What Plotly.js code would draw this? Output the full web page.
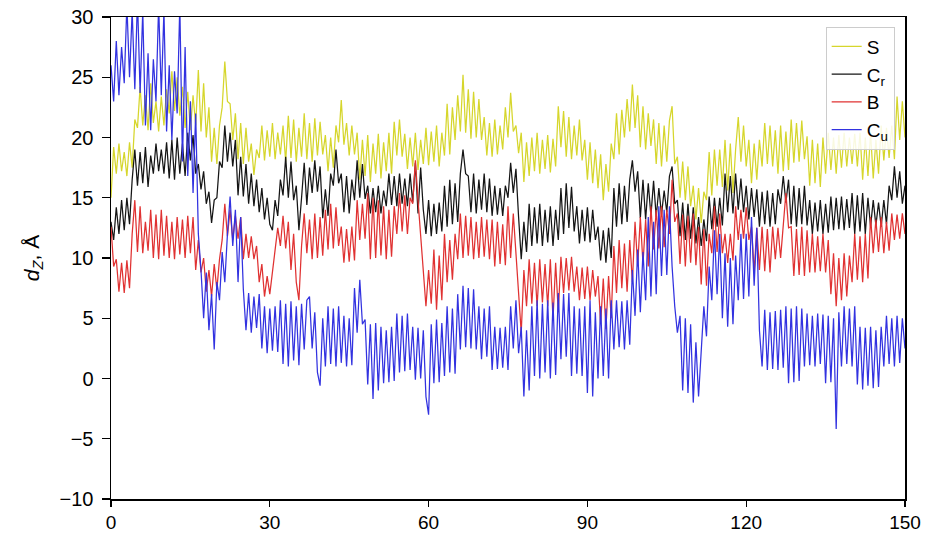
<!DOCTYPE html>
<html>
<head>
<meta charset="utf-8">
<script src="https://cdn.plot.ly/plotly-3.0.1.min.js"></script>
<style>
html,body{margin:0;padding:0;background:#fff;}
#chart{width:946px;height:533px;}
</style>
</head>
<body>
<div id="chart"></div>
<script>
// time grid: t = 0 ... 150 (ns), sampled every 0.5
const tStart = 0;
const tStep = 0.5;

const seriesNames = ["S", "C<sub>r</sub>", "B", "C<sub>u</sub>"];
const xTickVals = [0, 30, 60, 90, 120, 150];
const yTickVals = [-10, -5, 0, 5, 10, 15, 20, 25, 30];

const S = [
15.0,19.2,17.0,19.5,17.2,18.8,16.8,19.6,17.5,21.5,
20.8,24.2,21.0,23.5,20.6,24.5,21.2,23.0,20.5,23.4,
21.0,24.0,22.0,25.5,22.2,25.0,21.8,24.2,20.8,23.8,
20.6,23.5,21.0,25.6,20.5,24.5,20.0,22.5,18.0,20.8,
17.8,21.0,22.5,26.3,23.0,22.8,19.8,22.0,18.2,21.2,
17.8,20.8,18.0,19.5,16.9,19.0,18.3,21.0,18.1,20.6,
18.4,21.2,18.2,20.4,18.6,21.0,18.0,21.8,18.3,21.5,
18.0,20.8,18.4,22.0,18.2,21.2,18.0,21.6,18.5,21.3,
18.6,20.2,17.2,20.0,17.5,21.0,19.6,23.1,19.4,21.2,
18.5,21.0,18.6,20.4,16.5,19.8,16.8,20.2,16.3,19.5,
17.0,20.3,16.6,19.6,17.2,20.4,17.0,21.3,18.5,21.5,
18.4,20.3,17.4,20.0,17.6,20.4,17.3,19.8,17.8,20.8,
17.7,20.5,18.0,21.0,17.6,20.4,18.5,22.8,18.6,22.5,
19.8,23.5,20.5,25.2,20.4,24.0,19.9,23.8,20.0,23.2,
19.8,21.7,18.5,21.2,18.4,21.5,18.6,21.0,19.0,22.5,
20.0,23.7,20.5,21.0,18.7,20.4,16.3,19.6,16.8,20.0,
17.2,20.4,17.0,19.8,17.4,20.2,17.1,19.9,17.6,22.6,
19.2,22.2,18.4,21.7,18.2,21.0,18.5,21.5,18.1,19.8,
16.5,19.6,16.2,19.0,15.8,18.6,14.8,17.8,15.5,19.5,
18.2,22.0,18.6,22.3,20.0,23.2,20.5,24.4,20.8,23.5,
19.2,22.6,19.0,22.0,19.3,21.5,17.8,21.2,17.6,21.0,
18.0,21.4,22.6,17.8,18.4,15.0,18.0,14.8,17.6,14.3,
16.0,13.2,15.8,12.9,15.5,14.8,18.8,15.2,19.0,16.0,
19.0,15.9,19.8,15.6,19.5,15.4,19.0,21.7,18.0,21.0,
17.6,19.8,16.2,19.5,16.5,19.8,17.6,21.2,17.8,21.0,
17.6,20.6,17.0,21.0,17.2,20.5,17.3,21.5,17.9,21.2,
18.0,21.4,18.2,20.1,16.0,19.8,16.2,19.5,15.9,20.0,
17.0,20.4,17.3,20.0,17.0,20.2,17.5,20.4,17.6,20.0,
17.8,20.3,17.6,20.4,16.5,20.0,16.8,20.4,16.6,19.8,
17.0,21.0,18.1,20.8,18.3,21.0,18.2,23.4,19.8,23.0,
20.0
];

const Cr = [
13.0,11.5,14.2,12.0,14.8,12.3,15.0,12.8,16.5,19.0,
16.0,18.8,16.2,19.2,15.9,18.5,17.0,19.5,17.2,19.0,
17.0,19.6,16.6,19.8,16.5,20.0,17.0,19.5,16.8,20.4,
18.1,20.2,17.0,17.8,15.7,17.2,14.5,15.5,12.9,14.8,
15.0,18.0,17.5,21.0,18.0,20.4,17.6,19.8,15.2,18.4,
15.1,17.8,14.5,17.0,14.3,16.5,13.8,15.8,13.2,15.0,
12.8,12.3,14.8,13.5,16.5,15.2,18.4,15.0,18.0,14.8,
16.0,12.3,15.0,17.9,14.4,17.5,15.4,18.1,15.5,17.6,
13.3,15.7,13.5,17.0,16.0,19.0,16.2,17.0,13.8,16.8,
13.7,16.5,14.8,18.1,15.0,17.8,14.9,16.0,13.7,15.8,
13.8,16.0,13.7,15.6,14.3,17.0,14.4,16.8,14.3,17.0,
14.5,16.6,14.3,17.0,14.6,17.9,13.7,17.5,14.0,12.0,
14.8,11.8,14.5,12.0,14.6,12.2,16.0,12.6,16.5,12.8,
16.2,13.0,17.0,19.0,17.0,16.8,13.8,17.0,13.7,16.5,
14.0,17.0,13.8,16.6,13.5,16.0,13.6,15.8,13.5,16.0,
15.0,17.9,15.4,17.4,13.4,9.9,13.0,10.5,14.5,11.0,
14.2,11.2,14.5,11.0,14.0,11.3,14.3,11.0,14.0,11.5,
15.8,12.0,16.2,12.5,15.9,12.2,14.3,11.2,14.0,11.4,
14.2,11.3,14.0,11.5,12.6,9.8,12.3,9.6,12.5,10.0,
15.8,12.6,16.2,12.8,16.0,13.0,16.5,18.1,15.5,17.2,
13.3,16.5,13.2,16.2,13.5,16.4,13.4,15.8,13.6,15.6,
13.8,16.8,17.6,14.5,14.8,11.8,14.6,11.5,14.5,11.6,
14.2,11.2,13.4,11.0,13.2,11.4,15.1,12.4,15.0,12.6,
15.0,12.7,17.0,13.8,16.8,13.7,17.0,14.0,16.6,13.8,
16.0,13.2,15.8,13.4,15.7,12.6,15.5,12.8,15.6,12.6,
15.4,12.8,15.7,14.5,16.8,14.6,16.5,12.8,16.0,12.6,
15.8,12.8,16.0,12.7,14.8,12.0,14.6,12.2,14.8,12.0,
14.5,12.1,15.1,12.3,15.0,12.4,15.1,12.3,14.9,12.5,
15.4,12.0,15.2,12.2,15.4,12.0,15.0,12.6,14.8,12.7,
14.6,12.6,14.8,12.8,16.0,14.8,17.6,15.0,17.2,14.5,
16.0
];

const B = [
12.6,9.3,9.9,7.2,9.6,7.1,9.8,7.5,12.0,14.8,
10.5,14.3,10.4,13.0,10.6,14.0,10.0,13.6,9.9,14.0,
10.2,13.5,10.0,13.0,9.9,13.4,10.3,13.2,10.0,13.5,
10.4,13.4,9.0,11.5,8.8,10.0,7.2,9.0,6.8,9.5,
7.4,9.9,11.5,14.5,11.8,14.0,11.5,13.5,11.6,13.4,
9.9,12.0,10.0,11.8,9.9,11.0,8.0,9.5,6.8,8.5,
7.0,9.0,10.7,12.5,11.0,13.5,10.8,13.0,9.0,12.0,
8.0,6.5,11.0,13.7,10.4,13.2,9.9,13.7,10.0,13.4,
10.2,14.0,10.7,14.5,10.8,14.2,11.0,12.6,9.6,12.4,
9.7,12.6,9.8,14.8,11.5,14.5,11.6,15.4,9.9,15.0,
10.0,14.8,10.2,14.3,9.9,14.0,10.1,14.3,12.0,15.4,
12.2,15.2,12.0,15.0,14.5,18.1,14.8,12.0,9.3,6.0,
9.0,6.2,10.7,5.7,10.2,6.5,12.0,8.0,11.5,8.2,
12.0,9.9,13.7,10.0,13.5,10.2,13.4,9.9,13.0,10.0,
13.4,10.1,13.2,9.9,13.2,9.3,13.0,9.5,12.8,9.4,
14.3,10.0,13.7,9.9,7.1,3.8,9.0,6.0,9.9,6.2,
9.6,6.0,9.9,6.3,9.5,6.0,9.9,4.9,9.6,5.5,
10.1,7.1,10.0,7.3,10.1,7.2,9.3,6.5,9.2,6.6,
9.3,6.5,9.0,6.8,8.5,4.5,8.3,4.1,8.5,5.0,
11.0,7.1,11.5,7.5,11.2,7.2,11.5,8.0,13.0,9.3,
13.4,9.5,13.2,9.3,14.3,10.7,14.0,10.8,14.3,10.9,
14.0,12.0,16.5,13.0,13.7,9.5,13.6,9.3,13.5,9.6,
13.7,9.4,12.6,7.8,12.4,7.7,12.0,10.4,14.3,10.5,
13.7,10.4,12.0,9.6,12.0,9.8,14.3,11.5,14.0,11.6,
14.2,11.5,12.6,8.8,12.5,9.0,12.6,8.9,12.4,8.8,
12.6,9.9,12.5,10.0,12.6,15.4,12.5,12.6,8.5,12.4,
8.6,12.6,8.5,12.3,8.8,12.0,8.8,11.8,8.9,12.0,
8.8,11.5,7.0,10.4,6.0,10.0,6.5,10.4,6.8,10.2,
8.0,12.0,8.2,11.8,8.0,12.0,8.3,13.4,10.4,13.2,
10.5,13.4,10.4,13.0,10.6,13.7,11.5,13.6,11.6,13.7,
12.0
];

const Cu = [
26.0,23.0,28.0,23.5,27.5,24.5,31.0,25.0,30.5,24.0,
31.5,23.7,30.5,21.0,27.0,20.6,26.5,23.0,31.0,23.5,
30.5,20.5,26.0,19.8,25.5,22.0,31.0,18.0,27.5,16.8,
23.0,15.4,22.0,12.0,9.0,5.0,8.8,4.0,7.0,2.4,
8.0,6.5,10.5,8.0,12.0,15.1,11.0,14.0,8.0,13.4,
7.4,4.0,7.1,3.8,6.8,4.2,7.0,2.5,6.0,2.1,
5.8,2.3,6.0,2.2,6.5,1.2,6.2,1.0,6.4,1.5,
6.0,1.1,6.2,2.4,6.5,6.8,2.5,5.5,0.5,-0.6,
5.0,1.0,6.0,1.2,5.8,1.0,6.0,1.3,5.2,1.0,
5.0,1.1,7.5,3.8,8.2,4.5,4.9,-0.5,4.5,-1.7,
4.6,-1.0,4.3,-0.4,4.0,-0.3,4.3,-0.2,5.4,0.5,
5.2,0.6,5.4,0.7,4.3,-0.1,4.2,0.0,4.0,-1.5,
-3.0,4.5,-0.4,4.9,-0.3,4.6,0.2,6.0,0.5,5.8,
0.4,7.0,2.4,7.7,2.6,7.5,2.5,7.4,2.4,6.0,
1.6,5.8,1.8,6.0,0.7,4.3,0.8,4.2,0.9,4.3,
0.7,6.0,2.5,6.5,2.1,4.3,-1.5,4.0,-1.0,6.0,
0.2,6.5,0.0,6.2,0.5,6.5,0.0,6.3,0.3,7.1,
1.6,7.0,1.8,7.1,0.2,6.0,0.4,5.8,0.2,6.0,
-1.2,6.5,-1.5,5.5,0.0,6.0,0.2,5.8,0.0,6.5,
2.4,6.5,2.6,6.4,2.4,6.5,2.8,9.0,5.2,10.7,
5.5,10.5,6.5,13.4,6.8,13.0,7.0,14.3,8.5,14.0,
8.6,14.3,9.3,6.0,3.8,5.2,-1.0,5.0,-1.2,4.5,
-2.0,3.0,-1.5,2.4,6.0,3.5,9.3,6.5,12.3,7.0,
12.0,5.0,10.4,4.3,10.0,4.5,10.2,6.5,12.0,6.6,
12.0,6.8,13.4,7.7,12.5,4.0,1.0,5.7,0.7,5.5,
0.8,5.6,0.7,5.7,0.9,6.0,-0.4,5.8,-0.3,6.0,
-0.2,5.8,1.0,5.4,1.1,5.2,1.0,5.4,1.2,5.3,
-0.4,5.2,-0.3,5.0,-4.2,5.5,1.0,6.0,1.2,5.8,
1.0,6.0,-0.5,4.3,-0.9,4.2,-0.6,4.3,-0.8,4.0,
-0.7,4.3,1.0,5.2,1.2,5.0,1.0,5.2,1.3,5.0,
2.5
];

const seriesValues = [S, Cr, B, Cu];
const seriesColors = ["#d6d62c", "#151515", "#e03232", "#3232e0"];

const FONT = "Liberation Sans, Arial, Helvetica, sans-serif";

const traces = seriesValues.map((vals, i) => ({
  type: "scatter",
  mode: "lines",
  name: seriesNames[i],
  x0: tStart,
  dx: tStep,
  y: vals,
  line: {color: seriesColors[i], width: 1.25}
}));

const layout = {
  width: 946,
  height: 533,
  margin: {l: 111, r: 41, t: 17, b: 34, pad: 0},
  paper_bgcolor: "#ffffff",
  plot_bgcolor: "#ffffff",
  font: {family: FONT, size: 19, color: "#000"},
  showlegend: true,
  legend: {
    x: 0.987, y: 0.98, xanchor: "right", yanchor: "top",
    bgcolor: "rgba(255,255,255,0.85)",
    bordercolor: "#cccccc", borderwidth: 1,
    font: {family: FONT, size: 19, color: "#000"},
    itemwidth: 30,
    tracegroupgap: 0
  },
  xaxis: {
    range: [0, 150],
    tickvals: xTickVals,
    ticktext: xTickVals.map(String),
    ticks: "outside", ticklen: 6, tickwidth: 1.3, tickcolor: "#000",
    showline: true, linecolor: "#000", linewidth: 1.5, mirror: true,
    showgrid: false, zeroline: false,
    tickfont: {family: FONT, size: 19, color: "#000"}
  },
  yaxis: {
    range: [-10, 30],
    tickvals: yTickVals,
    ticktext: yTickVals.map(v => v < 0 ? "\u2212" + Math.abs(v) : String(v)),
    ticks: "outside", ticklen: 8, tickwidth: 1.3, tickcolor: "#000",
    ticklabelstandoff: 4,
    showline: true, linecolor: "#000", linewidth: 1.5, mirror: true,
    showgrid: false, zeroline: false,
    tickfont: {family: FONT, size: 20, color: "#000"},
    title: {text: "<i>d</i><sub><i>Z</i></sub>, Å", font: {family: FONT, size: 21, color: "#000"}, standoff: 14}
  }
};

Plotly.newPlot("chart", traces, layout, {staticPlot: true, displayModeBar: false});
</script>
</body>
</html>
